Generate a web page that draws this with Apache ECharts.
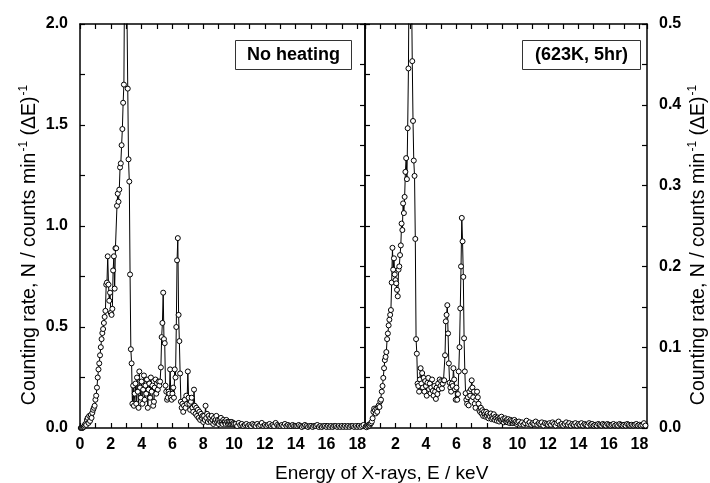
<!DOCTYPE html>
<html>
<head>
<meta charset="utf-8">
<script src="https://cdn.jsdelivr.net/npm/echarts@6/dist/echarts.min.js"></script>
<style>
html,body{margin:0;padding:0;background:#fff;}
#chart{width:710px;height:483px;}
</style>
</head>
<body>
<div id="chart"></div>
<script>
// Energy channels (keV)
const energies = [
0.05,0.1,0.15,0.2,0.25,0.3,0.35,0.4,0.45,0.5,0.55,0.6,0.65,0.7,0.75,0.8,0.85,0.9,0.95,1,
1.05,1.1,1.15,1.2,1.25,1.3,1.35,1.4,1.45,1.5,1.55,1.6,1.65,1.7,1.75,1.8,1.85,1.9,1.95,2,
2.05,2.1,2.15,2.2,2.25,2.3,2.35,2.4,2.45,2.5,2.55,2.6,2.65,2.7,2.75,2.8,2.85,2.9,2.95,3,
3.05,3.1,3.15,3.2,3.25,3.3,3.35,3.4,3.45,3.5,3.55,3.6,3.65,3.7,3.75,3.8,3.85,3.9,3.95,4,
4.05,4.1,4.15,4.2,4.25,4.3,4.35,4.4,4.45,4.5,4.55,4.6,4.65,4.7,4.75,4.8,4.85,4.9,4.95,5,
5.05,5.1,5.15,5.2,5.25,5.3,5.35,5.4,5.45,5.5,5.55,5.6,5.65,5.7,5.75,5.8,5.85,5.9,5.95,6,
6.05,6.1,6.15,6.2,6.25,6.3,6.35,6.4,6.45,6.5,6.55,6.6,6.65,6.7,6.75,6.8,6.85,6.9,6.95,7,
7.05,7.1,7.15,7.2,7.25,7.3,7.35,7.4,7.45,7.5,7.55,7.6,7.65,7.7,7.75,7.8,7.85,7.9,7.95,8,
8.05,8.1,8.15,8.2,8.25,8.3,8.35,8.4,8.45,8.5,8.55,8.6,8.65,8.7,8.75,8.8,8.85,8.9,8.95,9,
9.05,9.1,9.15,9.2,9.25,9.3,9.35,9.4,9.45,9.5,9.55,9.6,9.65,9.7,9.75,9.8,9.85,9.9,9.95,10,
10.1,10.2,10.3,10.4,10.5,10.6,10.7,10.8,10.9,11,
11.1,11.2,11.3,11.4,11.5,11.6,11.7,11.8,11.9,12,
12.1,12.2,12.3,12.4,12.5,12.6,12.7,12.8,12.9,13,
13.1,13.2,13.3,13.4,13.5,13.6,13.7,13.8,13.9,14,
14.1,14.2,14.3,14.4,14.5,14.6,14.7,14.8,14.9,15,
15.1,15.2,15.3,15.4,15.5,15.6,15.7,15.8,15.9,16,
16.1,16.2,16.3,16.4,16.5,16.6,16.7,16.8,16.9,17,
17.1,17.2,17.3,17.4,17.5,17.6,17.7,17.8,17.9,18,
18.1,18.2,18.3,18.4
];

// Left panel: No heating (N / counts min^-1 (dE)^-1)
const noHeating = [
0,0,0,0.003,0.006,0.012,0.02,0.015,0.04,0.05,0.025,0.06,0.035,0.065,0.05,0.075,0.09,0.10,0.11,0.14,
0.16,0.20,0.25,0.29,0.32,0.36,0.40,0.44,0.47,0.49,0.52,0.55,0.58,0.71,0.72,0.85,0.71,0.63,0.67,0.57,
0.56,0.59,0.78,0.85,0.69,0.89,0.89,1.10,1.16,1.12,1.18,1.29,1.31,1.40,1.48,1.61,1.70,2.35,2.60,2.45,
2.05,1.68,1.33,1.22,0.76,0.39,0.32,0.12,0.21,0.11,0.17,0.22,0.12,0.25,0.18,0.10,0.28,0.20,0.15,0.23,
0.12,0.19,0.26,0.14,0.21,0.17,0.24,0.10,0.19,0.22,0.15,0.25,0.18,0.21,0.11,0.13,0.20,0.24,0.17,0.22,
0.19,0.23,0.21,0.23,0.30,0.45,0.52,0.67,0.44,0.42,0.21,0.18,0.14,0.15,0.18,0.17,0.29,0.15,0.14,0.17,
0.20,0.15,0.29,0.25,0.50,0.83,0.94,0.56,0.43,0.27,0.13,0.10,0.12,0.08,0.11,0.14,0.10,0.16,0.12,0.28,
0.15,0.12,0.09,0.13,0.15,0.10,0.08,0.19,0.11,0.07,0.10,0.06,0.09,0.05,0.08,0.04,0.07,0.05,0.06,0.03,
0.06,0.04,0.11,0.05,0.07,0.03,0.06,0.04,0.05,0.03,0.06,0.04,0.02,0.05,0.03,0.04,0.06,0.03,0.04,0.02,
0.04,0.03,0.05,0.03,0.02,0.04,0.03,0.03,0.02,0.04,0.03,0.02,0.03,0.02,0.03,0.02,0.03,0.02,0.025,0.02,
0.02,0.01,0.025,0.015,0.02,0.01,0.015,0.02,0.01,0.015,
0.01,0.02,0.015,0.01,0.02,0.01,0.015,0.025,0.01,0.015,
0.01,0.015,0.02,0.01,0.015,0.01,0.025,0.015,0.01,0.01,
0.015,0.01,0.02,0.01,0.015,0.01,0.01,0.015,0.01,0.01,
0.01,0.015,0.01,0.005,0.01,0.015,0.01,0.005,0.01,0.01,
0.005,0.01,0.01,0.015,0.005,0.01,0.005,0.01,0.01,0.005,
0.01,0.005,0.01,0.005,0.01,0.01,0.005,0.01,0.005,0.01,
0.005,0.01,0.005,0.01,0.005,0.01,0.01,0.005,0.01,0.005,
0.01,0.005,0.01,0.015
];

// Right panel: (623K, 5hr)
const heated = [
0.002,0.001,0.003,0.002,0.004,0.003,0.005,0.006,0.008,0.012,0.02,0.024,0.022,0.018,0.024,0.02,0.026,0.028,0.026,0.033,
0.035,0.045,0.052,0.062,0.074,0.084,0.088,0.094,0.11,0.117,0.127,0.134,0.14,0.146,0.18,0.223,0.196,0.21,0.19,0.183,
0.179,0.171,0.163,0.196,0.2,0.214,0.226,0.253,0.245,0.278,0.266,0.286,0.317,0.334,0.308,0.371,0.445,0.6,0.68,0.65,
0.55,0.454,0.38,0.331,0.312,0.234,0.11,0.092,0.055,0.052,0.045,0.06,0.074,0.055,0.068,0.05,0.062,0.045,0.058,0.052,
0.04,0.056,0.062,0.048,0.055,0.043,0.05,0.06,0.046,0.04,0.052,0.045,0.036,0.05,0.042,0.055,0.048,0.06,0.052,0.058,
0.049,0.055,0.059,0.059,0.09,0.132,0.14,0.152,0.117,0.08,0.056,0.05,0.045,0.055,0.052,0.074,0.06,0.048,0.035,0.05,
0.035,0.042,0.07,0.1,0.148,0.2,0.26,0.231,0.187,0.111,0.07,0.043,0.035,0.03,0.038,0.028,0.045,0.04,0.048,0.059,
0.05,0.038,0.045,0.03,0.025,0.035,0.045,0.038,0.03,0.022,0.02,0.025,0.018,0.022,0.015,0.02,0.017,0.014,0.02,0.015,
0.018,0.012,0.016,0.014,0.018,0.011,0.015,0.012,0.017,0.01,0.014,0.012,0.009,0.013,0.011,0.008,0.012,0.01,0.014,0.009,
0.011,0.007,0.01,0.012,0.008,0.01,0.007,0.011,0.008,0.006,0.01,0.007,0.009,0.006,0.008,0.01,0.006,0.008,0.005,0.007,
0.008,0.005,0.007,0.004,0.006,0.009,0.005,0.007,0.004,0.006,
0.005,0.008,0.004,0.006,0.005,0.007,0.003,0.006,0.005,0.004,
0.006,0.004,0.007,0.005,0.003,0.006,0.008,0.004,0.005,0.003,
0.005,0.007,0.004,0.006,0.003,0.005,0.004,0.006,0.003,0.005,
0.004,0.006,0.003,0.005,0.004,0.003,0.006,0.004,0.005,0.003,
0.004,0.003,0.005,0.004,0.003,0.005,0.004,0.003,0.005,0.004,
0.003,0.004,0.005,0.003,0.004,0.003,0.005,0.004,0.003,0.004,
0.003,0.005,0.004,0.003,0.004,0.003,0.004,0.005,0.003,0.004,
0.003,0.004,0.006,0.003
];

const xTickLabels = ['0','2','4','6','8','10','12','14','16','18'];
const leftYTickLabels = ['0.0','0.5','1.0','1.5','2.0'];
const rightYTickLabels = ['0.0','0.1','0.2','0.3','0.4','0.5'];
const panelLabels = ['No heating', '(623K, 5hr)'];
const yTitle = ['Counting rate, N / counts min', '-1', ' (\u0394E)', '-1'];
const xTitle = 'Energy of X-rays, E / keV';

const FONT = '"Liberation Sans", Arial, Helvetica, sans-serif';
const chart = echarts.init(document.getElementById('chart'), null, {renderer: 'canvas'});

function pairs(ys){ return energies.map((e,i)=>[e, ys[i]]); }

const lineCol = '#000';
function xAx(grid, pos, showLabels, hideZero){
  return {
    type:'value', gridIndex:grid, position:pos, min:0, max:18.5, interval:1,
    axisLine:{show:true, onZero:false, lineStyle:{color:lineCol, width:1.5}},
    axisTick:{show:true, inside:true, length:5, lineStyle:{color:lineCol, width:1.2}},
    splitLine:{show:false},
    axisLabel:{show:showLabels, margin:9, color:'#000', fontFamily:FONT, fontWeight:'bold', fontSize:16,
      formatter:function(v){
        const s = String(Math.round(v*100)/100);
        if (hideZero && v === 0) return '';
        return xTickLabels.indexOf(s) >= 0 ? s : '';
      }}
  };
}
function yAx(grid, pos, max, interval, inside, labels, showLabels, name){
  const o = {
    type:'value', gridIndex:grid, position:pos, min:0, max:max, interval:interval,
    axisLine:{show:true, onZero:false, lineStyle:{color:lineCol, width:1.5}},
    axisTick:{show:true, inside:inside, length:5, lineStyle:{color:lineCol, width:1.2}},
    splitLine:{show:false},
    axisLabel:{show:showLabels, margin:12, color:'#000', fontFamily:FONT, fontWeight:'bold', fontSize:16,
      formatter:function(v){
        const s = (Math.round(v*1000)/1000).toFixed(1);
        return (Math.abs(v*10 - Math.round(v*10)) < 1e-6 && labels.indexOf(s) >= 0 &&
                Math.abs(parseFloat(s) - v) < 1e-6) ? s : '';
      }}
  };
  if (name) {
    o.name = '{a|' + yTitle[0] + '}{s|' + yTitle[1] + '}{a|' + yTitle[2] + '}{s|' + yTitle[3] + '}';
    o.nameLocation = 'middle';
    o.nameRotate = 90;
    o.nameGap = 40;
    o.nameTextStyle = {
      color:'#000',
      padding:[0,38,0,0],
      rich:{
        a:{fontFamily:FONT, fontSize:19.5, color:'#000', lineHeight:22, verticalAlign:'bottom'},
        s:{fontFamily:FONT, fontSize:12, color:'#000', lineHeight:22, verticalAlign:'top', padding:[0,0,0,1]}
      }
    };
  }
  return o;
}

function ser(xi, yi, ys){
  return {
    type:'line', xAxisIndex:xi, yAxisIndex:yi, data:pairs(ys),
    symbol:'circle', symbolSize:5, showSymbol:true, showAllSymbol:true,
    lineStyle:{color:'#000', width:1},
    itemStyle:{color:'#fff', borderColor:'#000', borderWidth:1},
    clip:true, animation:false, z:3
  };
}

const boxStyle = {fontFamily:FONT, fontWeight:'bold', fontSize:18, color:'#000'};

chart.setOption({
  animation:false,
  backgroundColor:'#fff',
  title:[
    {text:panelLabels[0], left:235, top:40, padding:[6,12,6,12], borderColor:'#333', borderWidth:1, backgroundColor:'#fff', textStyle:boxStyle},
    {text:panelLabels[1], left:522, top:40, padding:[6,13,6,13], borderColor:'#333', borderWidth:1, backgroundColor:'#fff', textStyle:boxStyle},
    {text:xTitle, left:270, top:459, textStyle:{fontFamily:FONT, fontWeight:'normal', fontSize:19, color:'#000'}}
  ],
  grid:[
    {left:80, top:24, width:285, height:404},
    {left:365, top:24, width:286, height:404}
  ],
  xAxis:[
    xAx(0,'bottom',true,false),
    xAx(0,'top',false,false),
    xAx(1,'bottom',true,true),
    xAx(1,'top',false,false)
  ],
  yAxis:[
    yAx(0,'left',2,0.25,true,leftYTickLabels,true,true),
    yAx(0,'right',2,0.25,false,leftYTickLabels,false,false),
    yAx(1,'right',0.5,0.05,true,rightYTickLabels,true,true),
    yAx(1,'left',0.5,0.05,false,rightYTickLabels,false,false)
  ],
  series:[
    ser(0,0,noHeating),
    ser(2,2,heated)
  ]
});
</script>
</body>
</html>
